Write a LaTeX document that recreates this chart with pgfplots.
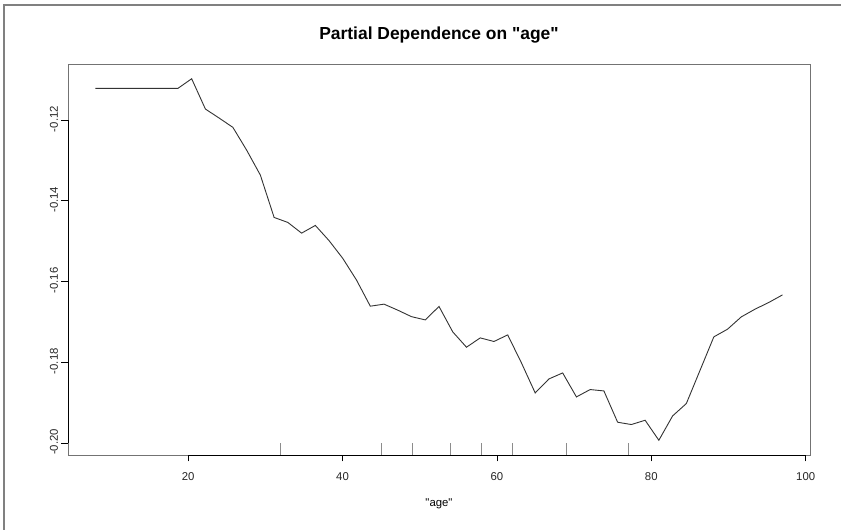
\documentclass[border=0pt]{standalone}
\usepackage{pgfplots}
\pgfplotsset{compat=1.18}
\usepackage{pgfplotstable}
\usepackage{fontspec}
\setmainfont{Liberation Sans}[Ligatures=TeXOff]

\definecolor{framegray}{gray}{0.50}
\definecolor{boxgray}{gray}{0.45}
\definecolor{curve}{gray}{0.20}
\definecolor{ruggray}{gray}{0.55}

% rug tick: a short vertical stroke rising from the point
\pgfdeclareplotmark{rug}{%
  \pgfpathmoveto{\pgfpointorigin}%
  \pgfpathlineto{\pgfpoint{0pt}{\pgfplotmarksize}}%
  \pgfusepathqstroke}

% partial dependence of the response on age (grid of 51 ages)
\pgfplotstableread{
age     pd
8.00   -0.11214
9.78   -0.11214
11.56  -0.11214
13.34  -0.11214
15.12  -0.11214
16.90  -0.11214
18.68  -0.11214
20.46  -0.10976
22.24  -0.11727
24.02  -0.11950
25.80  -0.12181
27.58  -0.12744
29.36  -0.13364
31.14  -0.14413
32.92  -0.14537
34.70  -0.14802
36.48  -0.14611
38.26  -0.14988
40.04  -0.15429
41.82  -0.15967
43.60  -0.16612
45.38  -0.16562
47.16  -0.16711
48.94  -0.16872
50.72  -0.16952
52.50  -0.16619
54.28  -0.17249
56.06  -0.17629
57.84  -0.17398
59.62  -0.17487
61.40  -0.17324
63.18  -0.18018
64.96  -0.18762
66.74  -0.18415
68.52  -0.18266
70.30  -0.18861
72.08  -0.18678
73.86  -0.18712
75.64  -0.19488
77.42  -0.19545
79.20  -0.19439
80.98  -0.19935
82.76  -0.19332
84.54  -0.19025
86.32  -0.18199
88.10  -0.17373
89.88  -0.17182
91.66  -0.16877
93.44  -0.16686
95.22  -0.16520
97.00  -0.16332
}\pdtable

% deciles of age, shown as a rug
\pgfplotstableread{
age    base
32     -0.2030
45     -0.2030
49     -0.2030
54     -0.2030
58     -0.2030
62     -0.2030
69     -0.2030
77     -0.2030
}\rugtable

\begin{document}
\begin{tikzpicture}[x=1bp,y=1bp]
\useasboundingbox (-68,-75) rectangle (773,455);
\draw[framegray, line width=1.4bp] (-64,-90) -- (-64,450) -- (790,450);
\begin{axis}[
  at={(0,0)}, anchor=south west,
  scale only axis,
  width=742bp, height=391bp,
  xmin=4.44, xmax=100.56,
  ymin=-0.2030, ymax=-0.1061,
  xtick={20,40,60,80,100},
  ytick={-0.20,-0.18,-0.16,-0.14,-0.12},
  xtick pos=bottom, ytick pos=left,
  tick align=outside,
  major tick length=6.5bp,
  tick style={black, line width=0.6bp},
  axis line style={boxgray, line width=0.8bp},
  /pgf/number format/assume math mode=true,
  yticklabel style={/pgf/number format/fixed, /pgf/number format/fixed zerofill,
    /pgf/number format/precision=2, rotate=90, anchor=south, xshift=1bp},
  xticklabel style={anchor=north, yshift=-8bp},
  ticklabel style={font=\fontsize{11.4}{13}\selectfont, text=black!85},
  scaled y ticks=false,
  title={Partial Dependence on "age"},
  title style={font=\bfseries\fontsize{17.5}{20}\selectfont, at={(0.5,1)}, anchor=center, yshift=23bp},
  xlabel={"age"},
  xlabel style={font=\fontsize{11.4}{13}\selectfont, at={(0.5,0)}, anchor=center, yshift=-48.5bp},
  clip=false,
]
\addplot[curve, line width=0.9bp, no markers] table[x=age, y=pd] {\pdtable};
\addplot[ruggray, only marks, mark=rug, mark size=11.7bp, mark options={line width=0.7bp}]
  table[x=age, y=base] {\rugtable};
\draw[black, line width=0.6bp] (axis cs:20,-0.2030) -- (axis cs:100,-0.2030);
\draw[black, line width=0.6bp] (axis cs:4.44,-0.20) -- (axis cs:4.44,-0.12);
\end{axis}
\end{tikzpicture}
\end{document}
